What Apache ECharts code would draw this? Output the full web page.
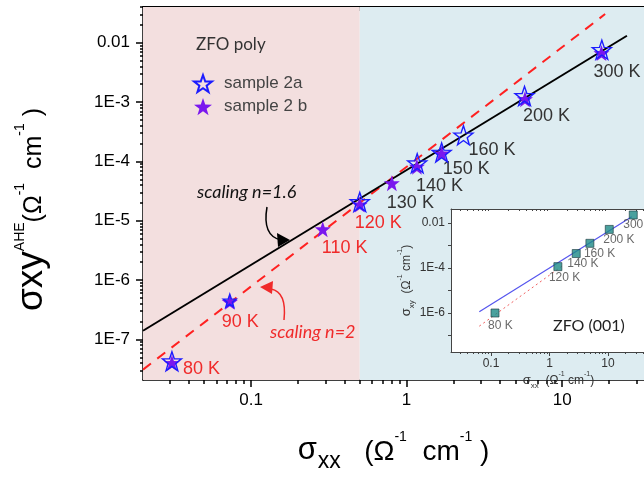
<!DOCTYPE html>
<html lang="en">
<head>
<meta charset="UTF-8"/>
<title>AHE scaling</title>
<script src="https://cdn.jsdelivr.net/npm/echarts@6/dist/echarts.min.js"></script>
<style>html,body{margin:0;padding:0;background:#fff}</style>
</head>
<body>
<div id="main" style="width:644px;height:478px;"></div>
<script type="text/javascript">
// sample 2a (open stars)
var temps2a = ['80 K', '90 K', '120 K', '140 K', '150 K', '160 K', '200 K', '300 K'];
var sxx2a = [0.031, 0.073, 0.50, 1.17, 1.68, 2.32, 5.73, 18.0];
var sxy2a = [4.3e-8, 4.5e-7, 2.07e-5, 9.3e-5, 1.41e-4, 2.75e-4, 1.27e-3, 7.6e-3];

// sample 2 b (filled stars)
var temps2b = ['80 K', '90 K', '110 K', '120 K', '130 K', '140 K', '150 K', '200 K', '300 K'];
var sxx2b = [0.031, 0.073, 0.289, 0.50, 0.804, 1.165, 1.68, 5.77, 17.9];
var sxy2b = [4.0e-8, 4.3e-7, 7.2e-6, 1.87e-5, 4.3e-5, 8.15e-5, 1.36e-4, 1.12e-3, 6.7e-3];

// scaling lines (end points)
var fit16X = [0.0202, 26.1];
var fit16Y = [1.40e-7, 0.0131];
var fit2X = [0.0202, 18.9];
var fit2Y = [3.1e-8, 0.0304];

// crossover between the two regimes
var crossover = 0.5;

// inset: ZFO (001)
var insetTemps = ['80 K', '120 K', '140 K', '160 K', '200 K', '300 K'];
var insetX = [0.117, 1.39, 2.86, 4.9, 10.5, 27];
var insetY = [1.0e-6, 1.15e-4, 4.4e-4, 1.25e-3, 5.2e-3, 0.0227];
var insetFitBlueX = [0.063, 25.4];
var insetFitBlueY = [1.15e-6, 0.019];
var insetFitRedX = [0.063, 1.73];
var insetFitRedY = [2.6e-7, 1.36e-4];

// axes
var xMin = 0.0202, xMax = 33.6;
var yMin = 2.07e-8, yMax = 0.04;
var xTicks = [0.1, 1, 10];
var xTickLabels = ['0.1', '1', '10'];
var yTicks = [1e-2, 1e-3, 1e-4, 1e-5, 1e-6, 1e-7];
var yTickLabels = ['0.01', '1E-3', '1E-4', '1E-5', '1E-6', '1E-7'];
var inXMin = 0.0207, inXMax = 41.2;
var inYMin = 1.85e-8, inYMax = 0.0419;
var inYTicks = [1e-2, 1e-3, 1e-4, 1e-5, 1e-6, 1e-7];
var inYLabelVals = [1e-2, 1e-4, 1e-6];
var inYTickLabels = ['0.01', '1E-4', '1E-6'];

var myChart = echarts.init(document.getElementById('main'));

var font = 'Liberation Sans, Arial, sans-serif';
var redTxt = '#f02a2a';
var darkTxt = '#333';

function minorTicks(lo, hi) {
    var out = [];
    for (var e = -9; e <= 2; e++) {
        for (var m = 2; m <= 9; m++) {
            var v = m * Math.pow(10, e);
            if (v >= lo && v <= hi) out.push(v);
        }
    }
    return out;
}
function pick(vals, labels) {
    return function (v) {
        var k = Math.round(Math.log10(v));
        for (var i = 0; i < vals.length; i++) {
            if (Math.round(Math.log10(vals[i])) === k) return labels[i];
        }
        return '';
    };
}

// label placement for temperature labels (offset from star centre)
var labelStyle = {
    '80 K': [11, 6, redTxt], '90 K': [-8, 20, redTxt], '110 K': [-1, 19, redTxt],
    '120 K': [-5, 18, redTxt], '130 K': [-5, 20, darkTxt], '140 K': [-1, 19, darkTxt],
    '150 K': [1, 16, darkTxt], '160 K': [5, 15, darkTxt], '200 K': [-2, 17, darkTxt],
    '300 K': [-8, 19, darkTxt]
};
function tempLabel(t) {
    var s = labelStyle[t];
    return {
        show: true, position: 'inside', align: 'left', verticalAlign: 'middle',
        offset: [s[0], s[1]], formatter: t, color: s[2], fontSize: 18, fontFamily: font
    };
}

var data2b = temps2b.map(function (t, i) {
    return {value: [sxx2b[i], sxy2b[i]], label: tempLabel(t)};
});
var data2a = temps2a.map(function (t, i) {
    var item = {value: [sxx2a[i], sxy2a[i]]};
    if (t === '90 K') item.symbolSize = 13;
    if (temps2b.indexOf(t) < 0) item.label = tempLabel(t);
    return item;
});

var insetOffsets = {
    '80 K': [-7, 13], '120 K': [-9, 11], '140 K': [-9, 10],
    '160 K': [-6, 10], '200 K': [-6, 10], '300 K': [-10, 10]
};
var insetData = insetTemps.map(function (t, i) {
    return {
        value: [insetX[i], insetY[i]],
        label: {
            show: true, position: 'inside', align: 'left', verticalAlign: 'middle',
            offset: insetOffsets[t], formatter: t, color: '#444', fontSize: 12, fontFamily: font
        }
    };
});

var star = 'path://M50,0L61.76,33.82L97.55,34.55L69.02,56.18L79.39,90.45L50,70L20.61,90.45L30.98,56.18L2.45,34.55L38.24,33.82Z';

function logAxis(o) {
    var a = {
        type: 'log', logBase: 10, splitLine: {show: false},
        axisLine: {show: false, onZero: false, lineStyle: {color: '#000', width: 1.5}},
        axisTick: {show: true, lineStyle: {color: '#000', width: 1.5}},
        axisLabel: {show: false},
        axisPointer: {show: false}
    };
    for (var k in o) {
        if (typeof o[k] === 'object' && a[k] && !Array.isArray(o[k])) {
            for (var j in o[k]) a[k][j] = o[k][j];
        } else a[k] = o[k];
    }
    return a;
}

var xMinor = minorTicks(xMin, xMax);
var yMinor = minorTicks(yMin, yMax);
var inXMinor = minorTicks(inXMin, inXMax);

option = {
    backgroundColor: '#fff',
    animation: false,
    title: [
        {text: 'ZFO poly', left: 196, top: 36, padding: 0,
            textStyle: {fontFamily: 'Lato', fontWeight: 'normal', fontSize: 17, color: '#333'}},
        {text: 'ZFO (001)', left: 553, top: 318, padding: 0,
            textStyle: {fontFamily: 'Lato', fontWeight: 'normal', fontSize: 16, color: '#222'}, z: 10}
    ],
    legend: {
        orient: 'vertical', left: 188, top: 69, itemWidth: 18, itemHeight: 18, itemGap: 5,
        data: ['sample 2a', 'sample 2 b'],
        textStyle: {fontFamily: font, fontSize: 17, color: '#444', padding: [0, 0, 0, 7]}
    },
    grid: [
        {left: 143, top: 7, right: 0, bottom: 94},
        {left: 451, top: 209, right: 0, bottom: 126, show: true, backgroundColor: '#fff', borderWidth: 0, z: 5}
    ],
    xAxis: [
        logAxis({gridIndex: 0, min: xMin, max: xMax, position: 'bottom',
            axisLine: {show: true},
            axisTick: {customValues: xTicks, length: 7},
            axisLabel: {show: true, customValues: xTicks, formatter: pick(xTicks, xTickLabels),
                fontSize: 17, color: '#000', fontFamily: font, margin: 12},
            name: '{s|σ}{sub|xx}{p|   (Ω}{sup|-1}{p|  cm}{sup|-1}{p| )}',
            nameLocation: 'middle', nameGap: 50,
            nameTextStyle: {
                fontFamily: font, color: '#000',
                rich: {
                    s: {fontSize: 31, fontFamily: font, verticalAlign: 'bottom', lineHeight: 36},
                    sub: {fontSize: 23, fontFamily: font, verticalAlign: 'bottom', lineHeight: 36, padding: [0, 0, -7, 1]},
                    p: {fontSize: 28, fontFamily: font, verticalAlign: 'bottom', lineHeight: 36},
                    sup: {fontSize: 14, fontFamily: font, verticalAlign: 'top', lineHeight: 36}
                }
            }
        }),
        logAxis({gridIndex: 0, min: xMin, max: xMax, position: 'bottom',
            axisTick: {customValues: xMinor, length: 4}}),
        logAxis({gridIndex: 0, min: xMin, max: xMax, position: 'top',
            axisLine: {show: true, lineStyle: {color: '#000', width: 2}},
            axisTick: {customValues: xTicks, length: 7, inside: true}}),
        logAxis({gridIndex: 0, min: xMin, max: xMax, position: 'top',
            axisTick: {customValues: xMinor, length: 4, inside: true}}),
        logAxis({gridIndex: 1, min: inXMin, max: inXMax, position: 'bottom', z: 6,
            axisLine: {show: true, lineStyle: {color: '#444', width: 1}},
            axisTick: {customValues: xTicks, length: 4, lineStyle: {color: '#444', width: 1}},
            axisLabel: {show: true, customValues: xTicks, formatter: pick(xTicks, xTickLabels),
                fontSize: 12, color: '#333', fontFamily: font, margin: 6},
            name: '{s|σ}{sub|xx}{p|  (Ω}{sup|-1}{p| cm}{sup|-1}{p|)}',
            nameLocation: 'middle', nameGap: 16,
            nameTextStyle: {
                fontFamily: font, color: '#333', padding: [0, 0, 0, 22],
                rich: {
                    s: {fontSize: 13, fontFamily: font, verticalAlign: 'bottom', lineHeight: 16},
                    sub: {fontSize: 8, fontFamily: font, verticalAlign: 'bottom', lineHeight: 16, padding: [0, 0, -3, 0]},
                    p: {fontSize: 12, fontFamily: font, verticalAlign: 'bottom', lineHeight: 16},
                    sup: {fontSize: 7, fontFamily: font, verticalAlign: 'top', lineHeight: 16}
                }
            }
        }),
        logAxis({gridIndex: 1, min: inXMin, max: inXMax, position: 'bottom', z: 6,
            axisTick: {customValues: inXMinor, length: 2, lineStyle: {color: '#444', width: 1}}}),
        logAxis({gridIndex: 1, min: inXMin, max: inXMax, position: 'top', z: 6,
            axisLine: {show: true, lineStyle: {color: '#444', width: 1}},
            axisTick: {customValues: inXMinor, length: 2, inside: true, lineStyle: {color: '#444', width: 1}}})
    ],
    yAxis: [
        logAxis({gridIndex: 0, min: yMin, max: yMax, position: 'left',
            axisLine: {show: true},
            axisTick: {customValues: yTicks, length: 7},
            axisLabel: {show: true, customValues: yTicks, formatter: pick(yTicks, yTickLabels),
                fontSize: 17, color: '#000', fontFamily: font, margin: 13},
            name: '{s|σxy}{sup|AHE}{p|(Ω}{sup|-1}{p|  cm}{sup|-1}{p| )}',
            nameLocation: 'middle', nameRotate: 90, nameGap: 93,
            nameTextStyle: {
                fontFamily: font, color: '#000', padding: [0, 32, 0, 0],
                rich: {
                    s: {fontSize: 37, fontFamily: font, verticalAlign: 'bottom', lineHeight: 37},
                    p: {fontSize: 25, fontFamily: font, verticalAlign: 'bottom', lineHeight: 37, padding: [0, 0, 3, 0]},
                    sup: {fontSize: 14, fontFamily: font, verticalAlign: 'top', lineHeight: 37}
                }
            }
        }),
        logAxis({gridIndex: 0, min: yMin, max: yMax, position: 'left',
            axisTick: {customValues: yMinor, length: 3}}),
        logAxis({gridIndex: 1, min: inYMin, max: inYMax, position: 'left', z: 6,
            axisLine: {show: true, lineStyle: {color: '#444', width: 1}},
            axisTick: {customValues: inYTicks, length: 3, lineStyle: {color: '#444', width: 1}},
            axisLabel: {show: true, customValues: inYLabelVals, formatter: pick(inYLabelVals, inYTickLabels),
                fontSize: 12, color: '#333', fontFamily: font, margin: 6},
            name: '{s|σ}{sub|xy}{p|  (Ω}{sup|-1}{p| cm}{sup|-1}{p|)}',
            nameLocation: 'middle', nameRotate: 90, nameGap: 34,
            nameTextStyle: {
                fontFamily: font, color: '#333',
                rich: {
                    s: {fontSize: 13, fontFamily: font, verticalAlign: 'bottom', lineHeight: 16},
                    sub: {fontSize: 8, fontFamily: font, verticalAlign: 'bottom', lineHeight: 16, padding: [0, 0, -3, 0]},
                    p: {fontSize: 12, fontFamily: font, verticalAlign: 'bottom', lineHeight: 16},
                    sup: {fontSize: 7, fontFamily: font, verticalAlign: 'top', lineHeight: 16}
                }
            }
        })
    ],
    series: [
        {
            name: 'regimes', type: 'line', data: [], xAxisIndex: 0, yAxisIndex: 0, z: 1, silent: true,
            markArea: {
                silent: true,
                data: [
                    [{xAxis: xMin, yAxis: yMin, itemStyle: {color: '#f3dfdf'}}, {xAxis: crossover, yAxis: yMax}],
                    [{xAxis: crossover, yAxis: yMin, itemStyle: {color: '#ddecf1'}}, {xAxis: xMax, yAxis: yMax}]
                ]
            }
        },
        {
            name: 'scaling n=2', type: 'line', xAxisIndex: 0, yAxisIndex: 0, z: 2, symbol: 'none',
            data: fit2X.map(function (x, i) { return [x, fit2Y[i]]; }),
            lineStyle: {color: '#ff2020', width: 2, type: [10, 8]}
        },
        {
            name: 'scaling n=1.6', type: 'line', xAxisIndex: 0, yAxisIndex: 0, z: 2, symbol: 'none',
            data: fit16X.map(function (x, i) { return [x, fit16Y[i]]; }),
            lineStyle: {color: '#000', width: 2}
        },
        {
            name: 'sample 2 b', type: 'scatter', xAxisIndex: 0, yAxisIndex: 0, z: 3,
            symbol: star, symbolSize: 16, data: data2b,
            itemStyle: {color: '#7a17ee', opacity: 1}
        },
        {
            name: 'sample 2a', type: 'scatter', xAxisIndex: 0, yAxisIndex: 0, z: 4,
            symbol: star, symbolSize: 19, data: data2a,
            itemStyle: {color: 'rgba(255,255,255,0)', borderColor: '#1c1cff', borderWidth: 1.4, opacity: 1}
        },
        {
            name: 'inset n=2', type: 'line', xAxisIndex: 4, yAxisIndex: 2, z: 7, symbol: 'none',
            data: insetFitRedX.map(function (x, i) { return [x, insetFitRedY[i]]; }),
            lineStyle: {color: '#f06060', width: 1, type: [2, 3]}
        },
        {
            name: 'inset n=1.6', type: 'line', xAxisIndex: 4, yAxisIndex: 2, z: 7, symbol: 'none',
            data: insetFitBlueX.map(function (x, i) { return [x, insetFitBlueY[i]]; }),
            lineStyle: {color: '#5555ee', width: 1.2}
        },
        {
            name: 'ZFO (001)', type: 'scatter', xAxisIndex: 4, yAxisIndex: 2, z: 8,
            symbol: 'rect', symbolSize: 8, data: insetData,
            itemStyle: {color: '#1d8a86', borderColor: '#1e3a40', borderWidth: 0.8}
        }
    ],
    graphic: [
        {type: 'text', left: 197, top: 183, z: 20,
            style: {text: 'scaling n=1.6', font: 'italic 18px Lato', fill: '#111'}},
        {type: 'text', left: 270, top: 323, z: 20,
            style: {text: 'scaling n=2', font: 'italic 18px Lato', fill: '#f02a2a'}},
        {type: 'bezierCurve', z: 20,
            shape: {x1: 267, y1: 207, cpx1: 262, cpy1: 236, x2: 281, y2: 240},
            style: {stroke: '#000', lineWidth: 1.5, fill: null}},
        {type: 'polygon', z: 20,
            shape: {points: [[277, 233], [290, 240], [278, 247]]},
            style: {fill: '#000'}},
        {type: 'bezierCurve', z: 20,
            shape: {x1: 284, y1: 320, cpx1: 287, cpy1: 292, x2: 271, y2: 289},
            style: {stroke: '#f02a2a', lineWidth: 1.5, fill: null}},
        {type: 'polygon', z: 20,
            shape: {points: [[260, 287], [273, 281], [272, 294]]},
            style: {fill: '#f02a2a'}}
    ]
};

myChart.setOption(option);
</script>
</body>
</html>
